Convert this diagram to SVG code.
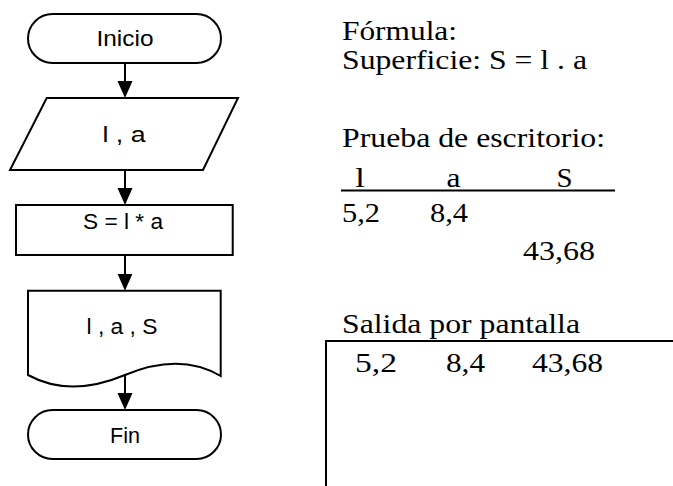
<svg xmlns="http://www.w3.org/2000/svg" width="673" height="486" viewBox="0 0 673 486">
<style>
.shape{fill:#fff;stroke:#000;stroke-width:2}
.conn{stroke:#000;stroke-width:2;fill:none}
.fc{font-family:"Liberation Sans",Arial,sans-serif;font-size:21.5px;fill:#000;text-anchor:middle}
.tm{font-family:"Liberation Serif","Times New Roman",serif;font-size:28px;fill:#000}
</style>
<defs>
<marker id="arr" markerUnits="userSpaceOnUse" markerWidth="18" markerHeight="16" refX="13" refY="7.5" orient="auto">
<path d="M0,0 L17,7.5 L0,15 Z" fill="#000"/>
</marker>
</defs>
<rect width="673" height="486" fill="#fff"/>
<g id="inicio">
<rect class="shape" x="28" y="14" width="193" height="49" rx="24.5" ry="24.5"/>
<text class="fc" x="125" y="46" textLength="57" lengthAdjust="spacingAndGlyphs">Inicio</text>
</g>
<g id="entrada">
<polygon class="shape" points="46.7,98 238,98 203,170 10,170"/>
<text class="fc" x="124" y="142" textLength="43" lengthAdjust="spacingAndGlyphs">l , a</text>
</g>
<g id="proceso">
<rect class="shape" x="16" y="205" width="216.7" height="50"/>
<text class="fc" x="123" y="229" textLength="80" lengthAdjust="spacingAndGlyphs">S = l * a</text>
</g>
<g id="salida">
<path class="shape" d="M28,290.7 H220.7 V376 Q180,352 125,375 Q70,398 28,375 Z"/>
<text class="fc" x="122" y="334" textLength="71" lengthAdjust="spacingAndGlyphs">l , a , S</text>
</g>
<g id="fin">
<rect class="shape" x="28" y="410" width="193" height="49" rx="24.5" ry="24.5"/>
<text class="fc" x="125" y="443" textLength="30" lengthAdjust="spacingAndGlyphs">Fin</text>
</g>
<g id="connectors">
<line class="conn" x1="125" y1="63" x2="125" y2="94" marker-end="url(#arr)"/>
<line class="conn" x1="125" y1="170" x2="125" y2="201" marker-end="url(#arr)"/>
<line class="conn" x1="125" y1="255" x2="125" y2="286.7" marker-end="url(#arr)"/>
<line class="conn" x1="125" y1="375" x2="125" y2="406" marker-end="url(#arr)"/>
</g>
<g id="notas">
<text class="tm" x="342" y="40" textLength="115" lengthAdjust="spacingAndGlyphs">Fórmula:</text>
<text class="tm" x="342" y="69" textLength="245" lengthAdjust="spacingAndGlyphs">Superficie: S = l . a</text>
<text class="tm" x="342" y="147" textLength="263" lengthAdjust="spacingAndGlyphs">Prueba de escritorio:</text>
<text class="tm" x="355" y="187" textLength="10" lengthAdjust="spacingAndGlyphs">l</text>
<text class="tm" x="446.5" y="187" textLength="14" lengthAdjust="spacingAndGlyphs">a</text>
<text class="tm" x="556.5" y="187" textLength="16" lengthAdjust="spacingAndGlyphs">S</text>
<line x1="341" y1="190.5" x2="615" y2="190.5" stroke="#000" stroke-width="2"/>
<text class="tm" x="342" y="222" textLength="38" lengthAdjust="spacingAndGlyphs">5,2</text>
<text class="tm" x="430" y="222" textLength="38" lengthAdjust="spacingAndGlyphs">8,4</text>
<text class="tm" x="523" y="260" textLength="72" lengthAdjust="spacingAndGlyphs">43,68</text>
<text class="tm" x="342" y="333" textLength="238" lengthAdjust="spacingAndGlyphs">Salida por pantalla</text>
<path d="M326,486 V341 H673" fill="none" stroke="#000" stroke-width="2"/>
<text class="tm" x="355" y="372" textLength="42" lengthAdjust="spacingAndGlyphs">5,2</text>
<text class="tm" x="446" y="372" textLength="39" lengthAdjust="spacingAndGlyphs">8,4</text>
<text class="tm" x="532" y="372" textLength="71" lengthAdjust="spacingAndGlyphs">43,68</text>
</g>
</svg>
